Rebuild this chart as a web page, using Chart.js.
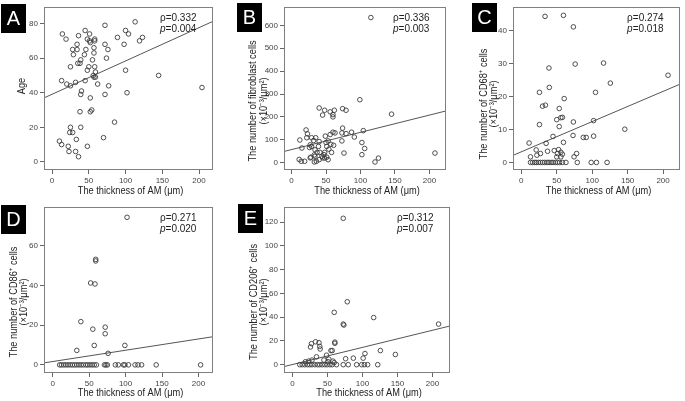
<!DOCTYPE html>
<html>
<head>
<meta charset="utf-8">
<script src="https://cdn.jsdelivr.net/npm/chart.js@4.4.0/dist/chart.umd.min.js"></script>
<style>
  body { margin: 0; background: #fff; width: 685px; height: 401px; overflow: hidden; position: relative; }
  canvas { position: absolute; }
</style>
</head>
<body>
<canvas id="cA" width="230" height="200" style="left:0;top:0"></canvas>
<canvas id="cB" width="225" height="200" style="left:230px;top:0"></canvas>
<canvas id="cC" width="230" height="200" style="left:455px;top:0"></canvas>
<canvas id="cD" width="230" height="201" style="left:0;top:200px"></canvas>
<canvas id="cE" width="225" height="201" style="left:230px;top:200px"></canvas>
<script>
// x ticks shared by all panels
const xTicks = [0, 50, 100, 150, 200];
const xTitle = 'The thickness of AM (μm)';

// A: age vs thickness of AM
const aX = [14,19,36,45,51,72,113,100,104,123,119,89,98,72,74,76,48,51,58,58,52,34,28,34,29,46,44,57,57,55,39,35,38,25,50,58,48,59,56,57,59,13,20,25,32,45,62,77,100,145,204,40,39,72,102,52,54,52,38,85,25,39,24,28,33,70,10,13,22,48,23,32,36];
const aY = [74,71,73,76,74,79,81,76,74,72,70,72,68,68,60,65,71,70,71,70,69,68,65,65,62,65,62,66,63,59,59,57,57,55,55,55,53,52,50,49,49,47,45,44,46,47,45,44,53,50,43,41,39,39,40,37,30,29,29,23,20,20,17,17,13,14,12,10,9,9,6,6,3];
const aFitX = [-11, 219];
const aFitY = [37, 81.3];
const aTicks = [0, 20, 40, 60, 80];

// B: fibroblast cells
const bX = [115,99,40,62,48,56,60,45,60,74,79,145,21,23,22,12,15,29,35,32,27,29,26,40,39,34,37,33,34,28,44,47,48,51,48,58,51,50,53,49,56,60,63,57,61,54,74,73,79,87,91,73,76,104,102,106,102,126,121,208,11,14,19,27,33,36,40,45,41,53];
const bY = [634,275,239,229,229,222,210,208,200,236,229,212,143,126,109,99,64,109,109,97,78,71,66,92,71,56,45,34,28,24,28,35,20,24,45,45,71,88,95,116,123,133,130,80,76,59,151,130,127,133,112,95,42,140,88,62,35,20,3,42,14,6,6,21,3,6,13,21,45,13];
const bFitX = [-11, 224];
const bFitY = [49, 226];
const bTicks = [0, 100, 200, 300, 400, 500, 600];

// C: CD68+ cells
const cX = [33.5,59.5,73.5,76,116,39,125.6,207,39.5,25.6,104.7,60.5,30,34,53.5,58,55.8,50,53.5,25.6,73.5,102,146,44.7,73,87.4,91.6,102,11,35,59.5,21,37,46.5,52.6,55.8,27,22,51,58,13,55.8,50,78,74.4,
  13,16,19,21,24,27,30,33,36.5,39,42,44.7,48,51,54,58,63,79,98.6,106,121];
const cY = [44.4,44.7,41.2,29.9,30.2,28.7,24.1,26.5,22.8,21.3,21.3,19.4,17.1,17.4,16.4,13.7,13.6,13,10.9,11.5,12.3,12.7,10.1,7.9,8.2,7.6,7.6,8.0,5.9,5.8,6.1,3.8,3.4,3.6,3.9,3.1,2.7,2.2,2.7,2.5,1.7,1.7,1.7,2.7,1.7,
  0,0,0,0,0,0,0,0,0,0,0,0,0,0,0,0,0,0,0,0,0];
const cFitX = [-11.7, 224];
const cFitY = [2.15, 23.8];
const cTicks = [0, 10, 20, 30, 40];

// D: CD86+ cells
const dX = [102,59,59,52,58,38.6,72,55,72,57,99,33,76,
  9.5,12,15,18,21,24,27,30,33,36,39,42,45.5,48,51,54,57,60,71,73,75,86,90,97,99,104,113,117,122,142,203];
const dY = [74.4,53.2,52.4,41.3,40.8,21.8,19,18,15.7,9.8,9.8,7.3,5.8,
  0,0,0,0,0,0,0,0,0,0,0,0,0,0,0,0,0,0,0,0,0,0,0,0,0,0,0,0,0,0,0];
const dFitX = [-12, 220];
const dFitY = [1, 14.2];
const dTicks = [0, 20, 40, 60];

// E: CD206+ cells
const eX = [72.6,78.3,59.7,116,72.6,73.5,208.7,33,38,27.2,25.8,39,39.6,60.6,60.6,56.8,55,125.6,103.6,147,48.7,34.4,87,76,101,52,45,51,58,18.6,23.4,28,59.7,
  10.5,14,17.7,21.5,24.8,28,32,35.8,39,42.5,46.3,49.7,53.5,56.8,63,72.6,79.7,91.7,98.9,102.7,107.4,121.8];
const eY = [123.3,53,44.1,39.7,34.2,33.4,34.2,19.3,18.5,17.7,14.9,15.4,13.2,19,18,11.9,11.9,11.9,9.4,8.6,8,6.6,5.5,5,5.5,4.7,3.9,2.5,3,2.5,3,3.9,1.7,
  0,0,0,0,0,0,0,0,0,0,0,0,0,0,0,0,0,0,0,0,0,0];
const eFitX = [-12, 225];
const eFitY = [-1.6, 32.6];
const eTicks = [0, 20, 40, 60, 80, 100, 120];

const FONT = "'Liberation Sans', Arial, sans-serif";
const unitLine = '(×10⁻³/μm²)';

// text drawn a bit narrower than normal, like the SPSS export
function narrowText(ctx, text, x, y, rot, squeeze) {
  ctx.save();
  ctx.translate(x, y);
  ctx.rotate(rot);
  ctx.scale(squeeze, 1);
  ctx.fillText(text, 0, 0);
  ctx.restore();
}

// frame, letter box, axis titles and rho/p text
const panelDeco = {
  id: 'panelDeco',
  afterDraw(chart, args, opts) {
    const ctx = chart.ctx;
    const a = chart.chartArea;
    ctx.save();
    ctx.strokeStyle = '#808080';
    ctx.lineWidth = 1;
    ctx.strokeRect(Math.round(a.left) + 0.5, Math.round(a.top) + 0.5, Math.round(a.width) - 1, Math.round(a.height) - 1);

    ctx.fillStyle = '#000';
    ctx.fillRect(opts.boxX, opts.boxY, 25, 29);
    ctx.fillStyle = '#fff';
    ctx.font = '20px ' + FONT;
    ctx.textAlign = 'center';
    ctx.textBaseline = 'middle';
    ctx.fillText(opts.letter, opts.boxX + 12.5, opts.boxY + 15);

    ctx.fillStyle = '#222';
    ctx.font = '10.5px ' + FONT;
    narrowText(ctx, xTitle, (a.left + a.right) / 2 + 2, a.bottom + opts.xTitleGap, 0, 0.88);
    opts.yTitle.forEach((t, i) => {
      narrowText(ctx, t, a.left - opts.titleOff[i], opts.titleY, -Math.PI / 2, 0.88);
    });

    ctx.textAlign = 'left';
    const tx = a.right - 53;
    ctx.font = '10px ' + FONT;
    ctx.fillText('ρ=' + opts.rho, tx, a.top + 11);
    ctx.font = 'italic 10px ' + FONT;
    ctx.fillText('p', tx, a.top + 22);
    const pw = ctx.measureText('p').width;
    ctx.font = '10px ' + FONT;
    ctx.fillText('=' + opts.p, tx + pw, a.top + 22);
    ctx.restore();
  }
};

function makePanel(id, p) {
  const pts = p.x.map((v, i) => ({ x: v, y: p.y[i] }));
  const fit = p.fitX.map((v, i) => ({ x: v, y: p.fitY[i] }));
  new Chart(document.getElementById(id), {
    type: 'scatter',
    data: {
      datasets: [
        { data: pts, pointRadius: 2.3, pointBorderWidth: 0.9, borderColor: '#3c3c3c', backgroundColor: 'rgba(0,0,0,0)' },
        { type: 'line', data: fit, borderColor: '#555', borderWidth: 1, pointRadius: 0, fill: false }
      ]
    },
    options: {
      responsive: false,
      animation: false,
      layout: { padding: { top: p.pt, right: p.pr, left: 0, bottom: 0 } },
      plugins: {
        legend: { display: false },
        tooltip: { enabled: false },
        panelDeco: {
          letter: p.letter, boxX: p.boxX, boxY: p.boxY, rho: p.rho, p: p.p,
          yTitle: p.yTitle, titleOff: p.titleOff, titleY: p.titleY, xTitleGap: p.xGap
        }
      },
      scales: {
        x: {
          type: 'linear', min: p.fitX[0], max: p.fitX[1],
          afterBuildTicks: s => { s.ticks = xTicks.map(v => ({ value: v })); },
          afterFit: s => { s.height = p.xh; },
          border: { display: false },
          grid: { drawOnChartArea: false, drawTicks: true, tickLength: 4, color: '#666' },
          ticks: { padding: 2, color: '#444', font: { size: 8, family: FONT } }
        },
        y: {
          type: 'linear', min: p.yMin, max: p.yMax,
          afterBuildTicks: s => { s.ticks = p.yTicks.map(v => ({ value: v })); },
          afterFit: s => { s.width = p.yw; },
          border: { display: false },
          grid: { drawOnChartArea: false, drawTicks: true, tickLength: 4, color: '#666' },
          ticks: { padding: 2, color: '#444', font: { size: 8, family: FONT } }
        }
      }
    },
    plugins: [panelDeco]
  });
}

makePanel('cA', { x: aX, y: aY, fitX: aFitX, fitY: aFitY, yTicks: aTicks, yMin: -4.7, yMax: 89.7,
  yTitle: ['Age'], titleOff: [22], titleY: 86, letter: 'A', rho: '0.332', p: '0.004',
  pt: 2, pr: 17, yw: 44, xh: 30, xGap: 21, boxX: 1, boxY: 4 });
makePanel('cB', { x: bX, y: bY, fitX: bFitX, fitY: bFitY, yTicks: bTicks, yMin: -32, yMax: 681,
  yTitle: ['The number of fibroblast cells', unitLine], titleOff: [31, 20], titleY: 101, letter: 'B', rho: '0.336', p: '0.003',
  pt: 2, pr: 9, yw: 54, xh: 30, xGap: 21, boxX: 7, boxY: 3 });
makePanel('cC', { x: cX, y: cY, fitX: cFitX, fitY: cFitY, yTicks: cTicks, yMin: -2.3, yMax: 47.3,
  yTitle: ['The number of CD68⁺ cells', unitLine], titleOff: [29, 19], titleY: 104, letter: 'C', rho: '0.274', p: '0.018',
  pt: 2, pr: 2, yw: 58, xh: 30, xGap: 21, boxX: 17, boxY: 3 });
makePanel('cD', { x: dX, y: dY, fitX: dFitX, fitY: dFitY, yTicks: dTicks, yMin: -4.1, yMax: 79.7,
  yTitle: ['The number of CD86⁺ cells', unitLine], titleOff: [30, 20], titleY: 102, letter: 'D', rho: '0.271', p: '0.020',
  pt: 4, pr: 17, yw: 44, xh: 28, xGap: 20, boxX: 1, boxY: 5 });
makePanel('cE', { x: eX, y: eY, fitX: eFitX, fitY: eFitY, yTicks: eTicks, yMin: -7, yMax: 133,
  yTitle: ['The number of CD206⁺ cells', unitLine], titleOff: [30, 20], titleY: 102, letter: 'E', rho: '0.312', p: '0.007',
  pt: 4, pr: 5, yw: 54, xh: 28, xGap: 20, boxX: 8, boxY: 4 });
</script>
</body>
</html>
